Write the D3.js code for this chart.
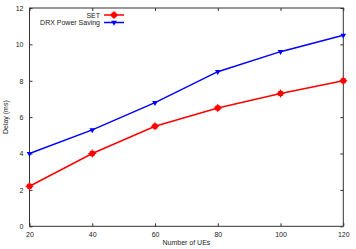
<!DOCTYPE html>
<html>
<head>
<meta charset="utf-8">
<script src="https://cdn.jsdelivr.net/npm/d3@7"></script>
<style>
  body { margin: 0; background: #fff; }
  svg text { font-family: "Liberation Sans", Arial, sans-serif; }
</style>
</head>
<body>
<svg id="chart" width="356" height="249"></svg>
<script>
var ues = [20, 40, 60, 80, 100, 120];
var setDelay = [2.2, 4.0, 5.5, 6.5, 7.3, 8.0];
var drxDelay = [4.0, 5.3, 6.8, 8.5, 9.6, 10.5];
var xTicks = [20, 40, 60, 80, 100, 120];
var yTicks = [0, 2, 4, 6, 8, 10, 12];

var svg = d3.select("#chart");
var margin = {left: 29.5, right: 12.7, top: 8, bottom: 22.7};
var W = 356, H = 249;

var x = d3.scaleLinear().domain([20, 120]).range([margin.left, W - margin.right]);
var y = d3.scaleLinear().domain([0, 12]).range([H - margin.bottom, margin.top]);

var frame = "#333";

// axes with inward ticks, mirrored on top/right
svg.append("g")
    .attr("transform", "translate(0," + y(0) + ")")
    .call(d3.axisBottom(x).tickValues(xTicks).tickSize(-3).tickPadding(6))
    .call(g => g.select(".domain").remove());
svg.append("g")
    .attr("transform", "translate(0," + y(12) + ")")
    .call(d3.axisTop(x).tickValues(xTicks).tickSize(-3).tickFormat(""))
    .call(g => g.select(".domain").remove());
svg.append("g")
    .attr("transform", "translate(" + x(20) + ",0)")
    .call(d3.axisLeft(y).tickValues(yTicks).tickSize(-3).tickPadding(6))
    .call(g => g.select(".domain").remove());
svg.append("g")
    .attr("transform", "translate(" + x(120) + ",0)")
    .call(d3.axisRight(y).tickValues(yTicks).tickSize(-3).tickFormat(""))
    .call(g => g.select(".domain").remove());

svg.selectAll(".tick line").attr("stroke", frame).attr("stroke-width", 1);
svg.selectAll(".tick text").attr("fill", "#222").style("font-size", "7px");

svg.append("rect")
    .attr("x", x(20)).attr("y", y(12))
    .attr("width", x(120) - x(20)).attr("height", y(0) - y(12))
    .attr("fill", "none").attr("stroke", frame).attr("stroke-width", 1);

// axis labels
svg.append("text")
    .attr("x", (x(20) + x(120)) / 2).attr("y", 245)
    .attr("text-anchor", "middle").style("font-size", "7px").attr("fill", "#222")
    .text("Number of UEs");
svg.append("text")
    .attr("transform", "translate(8," + (y(6)) + ") rotate(-90)")
    .attr("text-anchor", "middle").style("font-size", "7px").attr("fill", "#222")
    .text("Delay (ms)");

var line = d3.line().x(d => x(d[0])).y(d => y(d[1]));

var series = [
    {name: "SET", values: setDelay, color: "#ff0000", marker: "circle"},
    {name: "DRX Power Saving", values: drxDelay, color: "#0000ff", marker: "tri"}
];

function drawMarker(g, m, color, cx, cy) {
    if (m === "circle") {
        g.append("circle").attr("cx", cx).attr("cy", cy).attr("r", 3)
            .attr("fill", color);
        g.append("path")
            .attr("d", "M" + (cx - 4) + "," + cy + "H" + (cx + 4) + "M" + cx + "," + (cy - 4) + "V" + (cy + 4))
            .attr("stroke", color).attr("stroke-width", 1);
    } else {
        g.append("path")
            .attr("d", d3.symbol().type(d3.symbolTriangle).size(14)())
            .attr("transform", "translate(" + cx + "," + cy + ") rotate(180)")
            .attr("fill", color);
    }
}

series.forEach(function(s, i) {
    var pts = ues.map((u, j) => [u, s.values[j]]);
    svg.append("path")
        .datum(pts)
        .attr("d", line)
        .attr("fill", "none")
        .attr("stroke", s.color)
        .attr("stroke-width", 1.5);
    var g = svg.append("g");
    pts.forEach(p => drawMarker(g, s.marker, s.color, x(p[0]), y(p[1])));

    // legend
    var ly = 15 + i * 7.5;
    svg.append("text")
        .attr("x", 100).attr("y", ly + 2.5)
        .attr("text-anchor", "end").style("font-size", "7px").attr("fill", "#222")
        .text(s.name);
    svg.append("line")
        .attr("x1", 104).attr("x2", 124).attr("y1", ly).attr("y2", ly)
        .attr("stroke", s.color).attr("stroke-width", 1.5);
    drawMarker(svg.append("g"), s.marker, s.color, 114, ly);
});
</script>
</body>
</html>
